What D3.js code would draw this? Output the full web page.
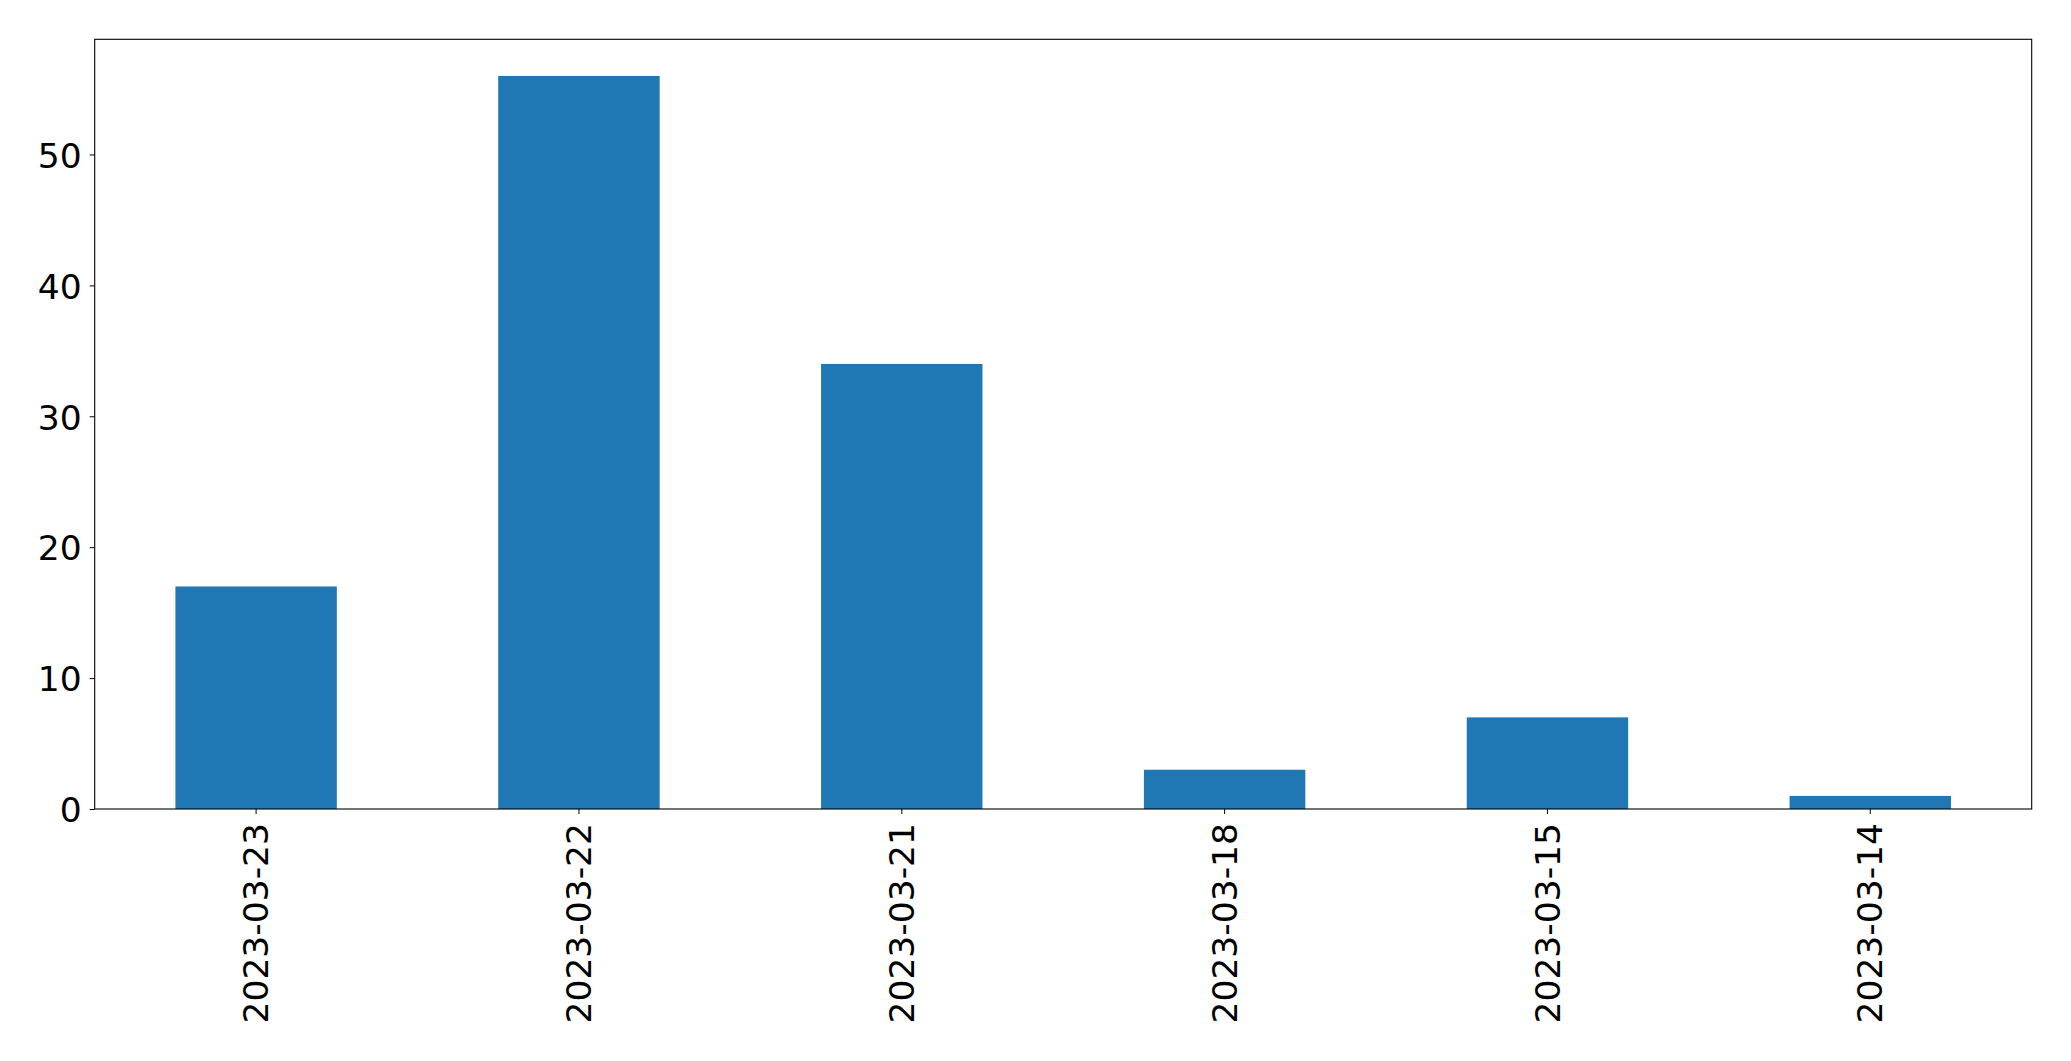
<!DOCTYPE html>
<html>
<head>
<meta charset="utf-8">
<script src="https://cdn.jsdelivr.net/npm/d3@7"></script>
<style>
  html, body { margin: 0; padding: 0; background: #fff; }
  svg { display: block; }
  text { font-family: "DejaVu Sans", sans-serif; fill: #000; }
</style>
</head>
<body>
<div id="chart"></div>
<script>
const categories = ["2023-03-23", "2023-03-22", "2023-03-21", "2023-03-18", "2023-03-15", "2023-03-14"];
const values = [17, 56, 34, 3, 7, 1];
const yTicks = [0, 10, 20, 30, 40, 50];

const W = 2071, H = 1061;
const mLeft = 94.7, mRight = 2031.7, mTop = 39.3, mBottom = 809;
const fontSize = 34.5;

const svg = d3.select("#chart").append("svg")
  .attr("width", W).attr("height", H);

const x = d3.scaleBand().domain(categories).range([mLeft, mRight]).paddingInner(0.5).paddingOuter(0.25);
const yMax = d3.max(values) * 1.05;
const y = d3.scaleLinear().domain([0, yMax]).range([mBottom, mTop]);

// bars
svg.append("g").selectAll("rect").data(values).join("rect")
  .attr("x", (d, i) => x(categories[i]))
  .attr("width", x.bandwidth())
  .attr("y", d => y(d))
  .attr("height", d => y(0) - y(d))
  .attr("fill", "#1f77b4");

// y axis
const yAxis = svg.append("g").attr("transform", `translate(${mLeft},0)`)
  .call(d3.axisLeft(y).tickValues(yTicks).tickSize(5).tickPadding(8).tickFormat(d3.format("d")));
yAxis.select(".domain").remove();
yAxis.selectAll(".tick line").attr("stroke", "#000").attr("stroke-width", 1);
yAxis.selectAll(".tick text").attr("font-size", fontSize).attr("font-family", "DejaVu Sans").attr("dy", "0.37em");

// x axis
const xAxis = svg.append("g").attr("transform", `translate(0,${mBottom})`)
  .call(d3.axisBottom(x).tickSize(5).tickPadding(0));
xAxis.select(".domain").remove();
xAxis.selectAll(".tick line").attr("stroke", "#000").attr("stroke-width", 1);
xAxis.selectAll(".tick text")
  .attr("font-size", fontSize).attr("font-family", "DejaVu Sans")
  .attr("text-anchor", "end")
  .attr("transform", "translate(0,14) rotate(-90)")
  .attr("x", 0).attr("y", 0).attr("dy", "0.35em");

// frame
svg.append("rect")
  .attr("x", mLeft).attr("y", mTop)
  .attr("width", mRight - mLeft).attr("height", mBottom - mTop)
  .attr("fill", "none").attr("stroke", "#000").attr("stroke-width", 1.1);
</script>
</body>
</html>
